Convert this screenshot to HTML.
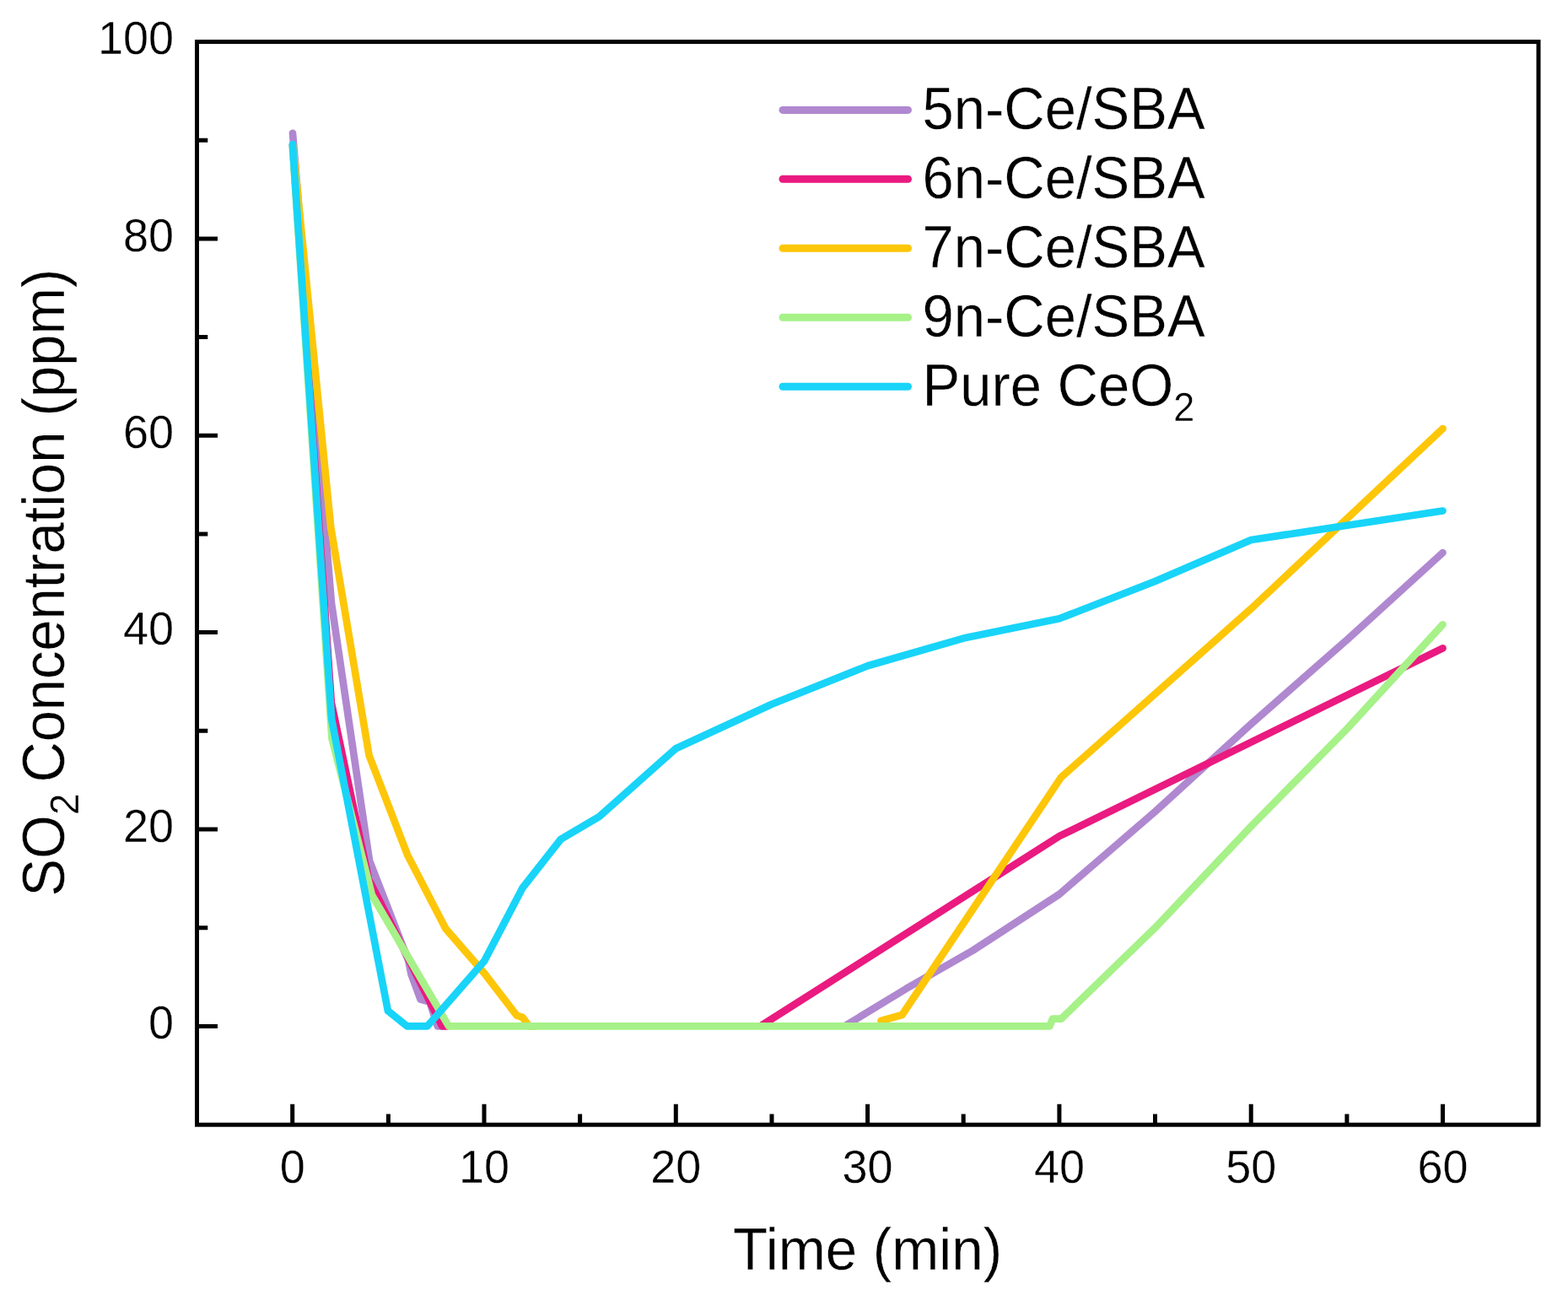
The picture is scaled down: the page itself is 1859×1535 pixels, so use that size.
<!DOCTYPE html>
<html lang="en">
<head>
<meta charset="utf-8">
<title>SO2 Concentration vs Time</title>
<style>
html,body{margin:0;padding:0;background:#fff;}
body{width:1859px;height:1535px;overflow:hidden;}
svg{display:block;}
</style>
</head>
<body>
<svg width="1859" height="1535" viewBox="0 0 1859 1535" font-family="'Liberation Sans', sans-serif" fill="#000">
<rect width="1859" height="1535" fill="#fff"/>
<g fill="none" stroke-linejoin="round" stroke-linecap="round" stroke-width="8.7">
<path d="M347.0,157.8L393.0,715.0L438.0,1020.0L484.3,1139.0L487.6,1155.0L498.5,1184.5L509.5,1187.5L518.8,1216.4L526.0,1216.4M1003.6,1215.0L1074.1,1172.1L1153.6,1126.5L1255.9,1060.0L1369.5,962.0L1483.2,858.2L1596.9,758.4L1710.5,655.1" stroke="#b088d0"/>
<path d="M347.0,172.0L392.8,832.6L437.0,1042.0L524.2,1216.4L530.0,1216.4M903.6,1215.0L1255.9,991.2L1710.5,768.3" stroke="#ea1a80"/>
<path d="M347.2,172.0L392.2,624.8L437.6,895.5L483.1,1013.4L528.5,1100.9L574.0,1153.4L612.6,1203.6L619.5,1205.9L627.4,1216.4L634.0,1216.4M1044.5,1210.0L1069.5,1203.0L1258.2,921.2L1483.2,721.6L1710.5,508.1" stroke="#fdc608"/>
<path d="M346.8,173.0L393.4,875.0L441.0,1061.0L532.0,1216.4L1244.5,1216.4L1247.9,1207.6L1258.2,1207.6L1369.5,1099.7L1483.2,979.5L1596.9,864.0L1710.5,740.3" stroke="#a6f188"/>
<path d="M346.9,171.0L393.1,852.0L459.9,1198.2L482.6,1216.4L506.6,1216.4L574.0,1139.4L619.5,1052.5L664.9,994.7L710.4,967.9L801.3,887.3L915.0,834.8L1028.6,789.3L1142.2,756.6L1255.9,733.3L1369.5,689.0L1483.2,640.0L1710.5,605.5" stroke="#18d4f8"/>
</g>
<g stroke="#000" stroke-width="5" fill="none">
<rect x="233.5" y="49.5" width="1590.5" height="1283.7"/>
<path d="M346.7,1333.2V1308.7M460.4,1333.2V1320.4M574.0,1333.2V1308.7M687.6,1333.2V1320.4M801.3,1333.2V1308.7M915.0,1333.2V1320.4M1028.6,1333.2V1308.7M1142.2,1333.2V1320.4M1255.9,1333.2V1308.7M1369.5,1333.2V1320.4M1483.2,1333.2V1308.7M1596.9,1333.2V1320.4M1710.5,1333.2V1308.7M233.5,1216.4H258.0M233.5,1099.7H246.3M233.5,983.0H258.0M233.5,866.3H246.3M233.5,749.6H258.0M233.5,633.0H246.3M233.5,516.3H258.0M233.5,399.6H246.3M233.5,282.9H258.0M233.5,166.2H246.3"/>
</g>
<g stroke="#fff" stroke-width="0.35" stroke-linejoin="round">
<g font-size="54px">
<text transform="translate(346.7,1401.9) scale(1,1.04)" text-anchor="middle">0</text>
<text transform="translate(574.0,1401.9) scale(1,1.04)" text-anchor="middle">10</text>
<text transform="translate(801.3,1401.9) scale(1,1.04)" text-anchor="middle">20</text>
<text transform="translate(1028.6,1401.9) scale(1,1.04)" text-anchor="middle">30</text>
<text transform="translate(1255.9,1401.9) scale(1,1.04)" text-anchor="middle">40</text>
<text transform="translate(1483.2,1401.9) scale(1,1.04)" text-anchor="middle">50</text>
<text transform="translate(1710.5,1401.9) scale(1,1.04)" text-anchor="middle">60</text>
<text transform="translate(206,1231.0) scale(1,1.04)" text-anchor="end">0</text>
<text transform="translate(206,997.6) scale(1,1.04)" text-anchor="end">20</text>
<text transform="translate(206,764.2) scale(1,1.04)" text-anchor="end">40</text>
<text transform="translate(206,530.9) scale(1,1.04)" text-anchor="end">60</text>
<text transform="translate(206,297.5) scale(1,1.04)" text-anchor="end">80</text>
<text transform="translate(206,64.1) scale(1,1.04)" text-anchor="end">100</text>
</g>
<g font-size="67.3px">
<text transform="translate(1028.6,1505.0) scale(1,1.05)" text-anchor="middle">Time (min)</text>
<text font-size="66.8px" transform="translate(75.5,1062.5) rotate(-90) scale(1,1.05)">SO<tspan font-size="46px" dy="17">2</tspan><tspan dy="-17" dx="-5.7"> Concentration</tspan><tspan dx="0"> (ppm)</tspan></text>
</g>
<g font-size="67px">
<path d="M928,130.4H1076.5" stroke="#b088d0" stroke-width="9.0" stroke-linecap="round" fill="none"/>
<text transform="translate(1093.5,153.2) scale(1,1.05)">5n-Ce/SBA</text>
<path d="M928,212.3H1076.5" stroke="#ea1a80" stroke-width="9.0" stroke-linecap="round" fill="none"/>
<text transform="translate(1093.5,235.1) scale(1,1.05)">6n-Ce/SBA</text>
<path d="M928,294.2H1076.5" stroke="#fdc608" stroke-width="9.0" stroke-linecap="round" fill="none"/>
<text transform="translate(1093.5,317.0) scale(1,1.05)">7n-Ce/SBA</text>
<path d="M928,376.2H1076.5" stroke="#a6f188" stroke-width="9.0" stroke-linecap="round" fill="none"/>
<text transform="translate(1093.5,398.9) scale(1,1.05)">9n-Ce/SBA</text>
<path d="M928,458.3H1076.5" stroke="#18d4f8" stroke-width="9.0" stroke-linecap="round" fill="none"/>
<text transform="translate(1093.5,481.0) scale(1,1.05)">Pure CeO<tspan font-size="45px" dy="17.5">2</tspan></text>
</g>
</g>
</svg>
</body>
</html>
